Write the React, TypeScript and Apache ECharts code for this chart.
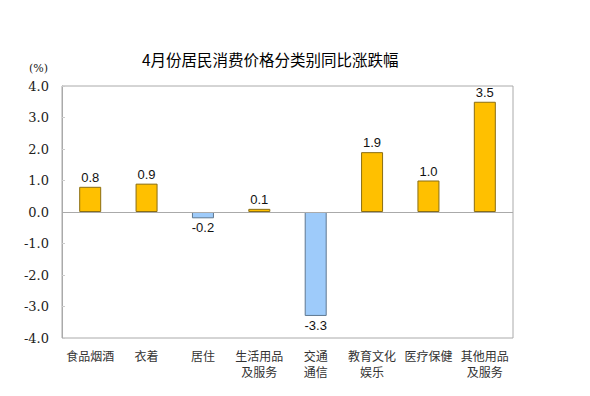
import React, { useEffect, useRef } from "react";
import * as echarts from "echarts";

const titleText = "4月份居民消费价格分类别同比涨跌幅";
const categories = [
  "食品烟酒",
  "衣着",
  "居住",
  "生活用品\n及服务",
  "交通\n通信",
  "教育文化\n娱乐",
  "医疗保健",
  "其他用品\n及服务",
];
const values = [0.8, 0.9, -0.2, 0.1, -3.3, 1.9, 1.0, 3.5];
const unitLabel = "(%)";

export default function App() {
  const ref = useRef<HTMLDivElement>(null);
  useEffect(() => {
    if (!ref.current) return;
    const chart = echarts.init(ref.current, null, { renderer: "svg" });
    chart.setOption({
      animation: false,
      backgroundColor: "#ffffff",
      title: {
        text: titleText,
        left: 137,
        top: 46,
        textStyle: {
          fontFamily: "Noto Sans CJK SC",
          fontSize: 15.5,
          fontWeight: "normal",
          color: "#000",
        },
      },
      graphic: [
        {
          type: "text",
          left: 29,
          top: 63,
          style: {
            text: unitLabel,
            fontFamily: "DejaVu Serif",
            fontSize: 11,
            fontWeight: "normal",
            fill: "#222",
          },
        },
      ],
      grid: {
        left: 62,
        right: 77,
        top: 86,
        bottom: 58,
        show: true,
        borderColor: "#aaaaaa",
        borderWidth: 1,
      },
      xAxis: {
        type: "category",
        data: categories,
        axisLine: { show: false, onZero: false },
        axisTick: { show: false },
        axisLabel: {
          interval: 0,
          margin: 9,
          fontFamily: "Noto Sans CJK SC",
          fontSize: 12,
          lineHeight: 16,
          color: "#333",
        },
      },
      yAxis: {
        type: "value",
        min: -4,
        max: 4,
        interval: 1,
        splitLine: { show: false },
        axisLine: { show: true, lineStyle: { color: "#aaaaaa" } },
        axisTick: { show: true, inside: true, length: 3, lineStyle: { color: "#cccccc" } },
        axisLabel: {
          formatter: (v: number) => v.toFixed(1),
          fontFamily: "DejaVu Serif",
          fontWeight: "normal",
          fontSize: 13,
          color: "#222",
          margin: 13,
        },
      },
      series: [
        {
          type: "bar",
          barWidth: 22,
          data: values.map((v) => ({
            value: v,
            itemStyle: v >= 0
              ? { color: "#FFC000", borderColor: "#8a6d12", borderWidth: 1 }
              : { color: "#9ECBFA", borderColor: "#5f7890", borderWidth: 1 },
            label: { position: v >= 0 ? "top" : "bottom" },
          })),
          label: {
            show: true,
            formatter: (p: any) => Number(p.value).toFixed(1),
            fontFamily: "Arial",
            fontSize: 13,
            color: "#111",
            distance: 3,
          },
          markLine: {
            silent: true,
            symbol: "none",
            label: { show: false },
            lineStyle: { color: "#aaaaaa", type: "solid", width: 1 },
            data: [{ yAxis: 0 }],
          },
        },
      ],
    });
    return () => chart.dispose();
  }, []);
  return (
    <div
      ref={ref}
      style={{ position: "absolute", left: 0, top: 0, width: 590, height: 396 }}
    />
  );
}
